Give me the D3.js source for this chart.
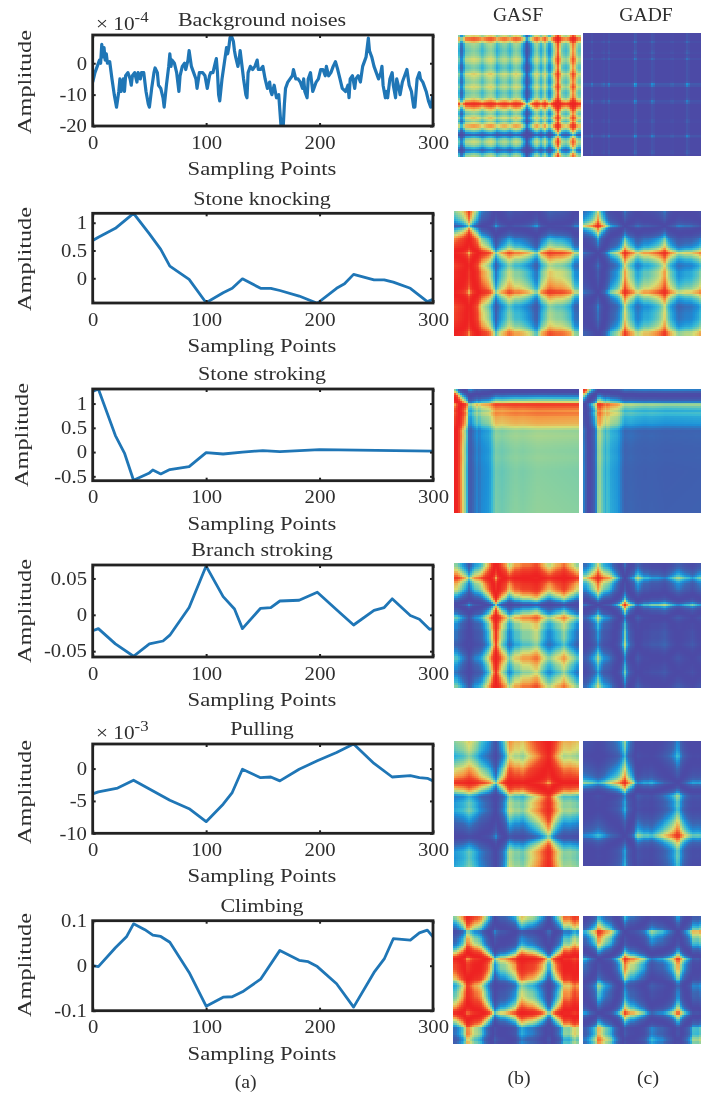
<!DOCTYPE html>
<html>
<head>
<meta charset="utf-8">
<script src="https://cdn.jsdelivr.net/npm/d3@7"></script>
<style>
  html, body { margin: 0; background: #fff; overflow: hidden; }
  svg { display: block; filter: blur(0.5px); }
  text { font-family: "Liberation Serif", serif; fill: #2e2e2e; }
</style>
</head>
<body>
<div id="chart"></div>
<script>
// values, x in sampling points
const tickX = [0, 100, 200, 300];
const titles = ["Background noises", "Stone knocking", "Stone stroking", "Branch stroking", "Pulling", "Climbing"];

const noiseX = [0,2,4,6,7,8,9,10,11,12,13,15,17,19,21,23,24,25,27,28,29,31,33,34,35,37,39,40,42,43,45,47,49,50,52,54,55,57,58,60,62,63,65,67,68,69,70,72,74,76,77,79,81,82,84,85,87,89,91,92,94,97,99,101,103,104,106,108,109,110,111,112,114,116,118,119,120,121,122,124,125,126,128,129,130,132,133,135,136,137,139,141,143,145,146,148,150,152,154,156,157,158,160,162,164,165,166,168,169,170,172,174,176,177,179,181,183,185,186,187,189,190,192,194,195,197,199,201,203,205,206,208,210,212,214,216,218,220,223,225,226,227,229,231,232,234,236,238,240,241,243,244,246,248,250,252,254,255,256,258,259,260,262,264,265,267,268,270,271,273,275,277,279,281,283,284,286,288,289,291,293,294,296,298,300];
const noiseY = [-6,-3,-1,1,0,6,2,5,1,3,0,0.5,-5,-10,-14,-9,-5,-9,-5,-9,-4,-3,-5,-7,-4,-3,-6,-3,-5,-3,-3,-9,-13,-14,-8,-3,-1.5,-3,-7,-8,-11,-14,-7,-1,3,-1,1,0,-3,-9,-4,-1,0,-2,1,4,-1,-3,-5,-8,-3,-3,-4,-8,-4,-3,-3,0,1.5,-3,-10,-12,-5,0,5,3,5,8,9,7,4,2,-1,1,4,-2,-5,-10,-11,-3,-1,-2,-1,1,-2,-2,-1,-5,-8,-6,-9,-10,-7,-11,-10,-15,-20,-20,-13,-8,-6,-5,-4,-2,-5,-5,-6,-8,-5,-9,-11,-5,-3,-9,-8,-6,-5,-2,-2,-4,-1,-4,-3,-1,0.5,-2,-5,-8,-9,-7,-11,-5,-4,-8,-5,-4,-6,-1,1,2,8,4,2,-1,-3,-5,-3,-1,-7,-11,-9,-11,-5,-3,-7,-11,-5,-8,-10,-6,-4,-2,-7,-9,-14,-14,-5,-3,-5,-6,-8,-9,-12,-14,-10];

// the noise images do not follow the plotted trace closely, so their
// row/column profiles are read from the images themselves (scaled -1..1)
const noiseLeftX = [0,9,21,30,39,51,60,72,81,90,96,108,117,129,141,153,162,171,180,189,195,204,213,225,234,246,255,264,273,285,294,300];
const noiseLeftY = [0,-0.75,0,0.05,0.12,0.03,-0.16,0.05,0.15,0.03,-0.2,0,0.06,-0.16,0.12,0,-0.45,-0.85,-0.45,0,0.1,-0.22,0.12,-0.5,0,0.75,0.05,-0.12,0.05,0.7,0.03,-0.05];
const noiseRightX = [0,16,21,26,42,48,53,58,63,68,100,118,126,134,160,168,176,210,216,222,244,252,260,285,291,297,300];
const noiseRightY = [0,0,0.34,0,0,0.34,0,0.05,0.4,0,0,0,0.74,0,0,0.58,0,0,0.3,0,0,0.58,0,0,0.36,0,0];

const knockingX = [0,5,20,36,50,60,68,85,100,115,123,132,148,157,165,182,198,215,222,230,248,257,265,280,295,300];
const knockingY = [0.68,0.74,0.9,1.17,0.8,0.52,0.22,-0.02,-0.44,-0.26,-0.18,-0.01,-0.18,-0.18,-0.22,-0.32,-0.45,-0.18,-0.1,0.07,-0.03,-0.03,-0.07,-0.18,-0.42,-0.38];

const strokingX = [0,5,20,28,36,50,53,60,68,85,100,115,132,150,165,200,300];
const strokingY = [1.25,1.3,0.34,-0.02,-0.58,-0.43,-0.37,-0.45,-0.36,-0.3,-0.01,-0.04,0,0.03,0.01,0.05,0.02];

const branchX = [0,5,20,36,50,62,68,85,100,115,125,132,148,157,165,182,198,215,230,248,257,264,280,288,297,300];
const branchY = [-0.022,-0.019,-0.04,-0.057,-0.04,-0.036,-0.028,0.01,0.067,0.025,0.008,-0.019,0.009,0.01,0.019,0.02,0.031,0.007,-0.014,0.006,0.01,0.022,-0.001,-0.006,-0.02,-0.019];

const pullingX = [0,5,22,36,68,85,100,115,123,132,148,157,165,182,198,215,230,248,264,280,288,295,300];
const pullingY = [-3.9,-3.6,-3,-1.8,-4.9,-6.2,-8.2,-5.5,-3.7,-0.1,-1.4,-1.3,-1.9,-0.1,1.2,2.5,3.8,0.8,-1.3,-1.1,-1.4,-1.5,-1.9];

const climbingX = [0,5,20,30,36,46,53,60,68,85,100,115,123,132,148,165,182,190,198,215,230,248,257,265,280,288,295,300];
const climbingY = [0,-0.002,0.04,0.065,0.093,0.08,0.068,0.065,0.052,-0.015,-0.09,-0.07,-0.069,-0.058,-0.03,0.034,0.012,0.009,-0.002,-0.04,-0.092,-0.015,0.015,0.06,0.057,0.073,0.079,0.064];

const domains = [[-20, 9], [-0.445, 1.17], [-0.59, 1.3], [-0.058, 0.0685], [-10, 3.8], [-0.1, 0.1]];
const ticksY = [[0, -10, -20], [1, 0.5, 0], [1, 0.5, 0, -0.5], [0.05, 0, -0.05], [0, -5, -10], [0.1, 0, -0.1]];
const multipliers = ["-4", null, null, null, "-3", null];

const colorStops = [-1, -0.7, -0.45, -0.25, 0, 0.25, 0.5, 0.75, 1];
const colorValues = ["#4c4aa6", "#3d65b2", "#1c90d8", "#35b8d6", "#88d0a0", "#d8dc72", "#f59a44", "#f0482a", "#ee2222"];

const seriesX = [noiseX, knockingX, strokingX, branchX, pullingX, climbingX];
const seriesY = [noiseY, knockingY, strokingY, branchY, pullingY, climbingY];

// layout
const plotLeft = 92.7, plotRight = 433;
const plotTop = [35, 213.3, 389, 565, 744, 920.7];
const plotBottom = [126, 303, 480.7, 657, 833.3, 1010.7];
const ampX = [25, 25, 22, 25, 25, 25];
const ampY = [82, 259, 435, 611, 792, 965];
const mapTop = [[35, 33], [211, 211], [389, 389], [563.3, 563.3], [741, 741], [915.7, 915.7]];
const mapBottom = [[156.7, 155.7], [335, 335], [512.7, 512.7], [687, 687], [866.7, 865], [1043.3, 1043.3]];
const mapLeft = [[457.7, 583.3], [454.3, 583.3], [454.3, 583.3], [454.3, 583.3], [454.3, 583.3], [452.7, 583.3]];
const mapRight = [[580, 707], [578.3, 707], [578.3, 707], [578.3, 707], [578.3, 707], [578.3, 707]];
const gridSize = 64;

const svg = d3.select("#chart").append("svg").attr("width", 701).attr("height", 1095);
const color = d3.scaleLinear().domain(colorStops).range(colorValues).clamp(true);

// stretched serif text, the scan is wider than it is tall
const label = (x, y, str, size = 19, sx = 1.18, rotate = 0) => svg.append("text")
    .attr("transform", `translate(${x},${y}) rotate(${rotate}) scale(${sx},1)`)
    .attr("text-anchor", "middle")
    .attr("dominant-baseline", "central")
    .attr("font-size", size)
    .text(str);

// phi profile of one image on the grid
const profile = (xs, ys, scaled) => {
    const lookup = d3.scaleLinear().domain(xs).range(ys);
    const rescale = d3.scaleLinear().domain(scaled ? [-1, 1] : d3.extent(ys)).range([-1, 1]).clamp(true);
    return d3.range(gridSize).map(i => Math.acos(rescale(lookup((i + 0.5) * 300 / gridSize))));
};

// the two image columns are the Gramian angular fields of the series
const leftCells = phi => phi.flatMap((py, r) => phi.map((px, c) => ({ r, c, v: Math.sin(py - px) })));
const rightCells = phi => phi.flatMap((py, r) => phi.map((px, c) => ({ r, c, v: Math.cos(px + py) })));

titles.forEach((title, i) => {
    const x = d3.scaleLinear().domain([0, 300]).range([plotLeft, plotRight]);
    const y = d3.scaleLinear().domain(domains[i]).range([plotBottom[i], plotTop[i]]);
    const plot = svg.append("g");

    const clipId = `clip-${i}`;
    svg.append("clipPath").attr("id", clipId).append("rect")
        .attr("x", plotLeft).attr("y", plotTop[i])
        .attr("width", plotRight - plotLeft).attr("height", plotBottom[i] - plotTop[i]);

    const line = d3.line().x(d => x(d[0])).y(d => y(d[1]));
    plot.append("path")
        .datum(d3.zip(seriesX[i], seriesY[i]))
        .attr("clip-path", `url(#${clipId})`)
        .attr("d", line)
        .attr("fill", "none")
        .attr("stroke", "#1f76b6")
        .attr("stroke-width", i === 0 ? 3.2 : 2.8)
        .attr("stroke-linejoin", "round");

    // matlab style box, ticks point inwards on all four sides
    const xBottom = d3.axisBottom(x).tickValues(tickX).tickSizeInner(-3).tickSizeOuter(0).tickPadding(10).tickFormat(String);
    const yLeft = d3.axisLeft(y).tickValues(ticksY[i]).tickSizeInner(-3).tickSizeOuter(0).tickPadding(5).tickFormat(String);
    const xTop = d3.axisTop(x).tickValues(tickX).tickSizeInner(-3).tickSizeOuter(0).tickFormat("");
    const yRight = d3.axisRight(y).tickValues(ticksY[i]).tickSizeInner(-3).tickSizeOuter(0).tickFormat("");
    plot.append("g").attr("transform", `translate(0,${plotBottom[i]})`).call(xBottom);
    plot.append("g").attr("transform", `translate(${plotLeft},0)`).call(yLeft);
    plot.append("g").attr("transform", `translate(0,${plotTop[i]})`).call(xTop);
    plot.append("g").attr("transform", `translate(${plotRight},0)`).call(yRight);
    plot.selectAll(".domain").remove();
    plot.selectAll(".tick line").attr("stroke", "#222").attr("stroke-width", 2);
    plot.selectAll(".tick text")
        .attr("font-family", "Liberation Serif")
        .attr("font-size", 18)
        .attr("fill", "#2e2e2e")
        .attr("transform", "scale(1.15,1)");

    plot.append("rect")
        .attr("x", plotLeft).attr("y", plotTop[i])
        .attr("width", plotRight - plotLeft).attr("height", plotBottom[i] - plotTop[i])
        .attr("fill", "none")
        .attr("stroke", "#222")
        .attr("stroke-width", 2.8);

    label(262, plotTop[i] - 15, title, 19, 1.16);
    label(262, plotBottom[i] + 42.5, "Sampling Points", 19, 1.19);
    label(ampX[i], ampY[i], "Amplitude", 19, 1.28, -90);

    if (multipliers[i]) {
        const t = svg.append("text")
            .attr("transform", `translate(96,${plotTop[i] - 5}) scale(1.12,1)`)
            .attr("font-size", 19);
        t.append("tspan").text("\u00d7 10");
        t.append("tspan").attr("dy", -8).attr("font-size", 15).text(multipliers[i]);
    }

    // heat maps
    const fields = i === 0
        ? [leftCells(profile(noiseLeftX, noiseLeftY, true)), rightCells(profile(noiseRightX, noiseRightY, true))]
        : [leftCells(profile(seriesX[i], seriesY[i])), rightCells(profile(seriesX[i], seriesY[i]))];
    fields.forEach((cells, k) => {
        const cx = d3.scaleBand().domain(d3.range(gridSize)).range([mapLeft[i][k], mapRight[i][k]]);
        const cy = d3.scaleBand().domain(d3.range(gridSize)).range([mapTop[i][k], mapBottom[i][k]]);
        svg.append("g")
            .attr("shape-rendering", "crispEdges")
            .selectAll("rect")
            .data(cells)
            .join("rect")
            .attr("x", d => cx(d.c))
            .attr("y", d => cy(d.r))
            .attr("width", cx.bandwidth() + 0.5)
            .attr("height", cy.bandwidth() + 0.5)
            .attr("fill", d => color(d.v));
    });
});

label(518, 15, "GASF", 18, 1.09);
label(646, 15, "GADF", 18, 1.09);
label(245.7, 1082, "(a)", 18, 1.1);
label(519, 1078, "(b)", 18, 1.1);
label(648, 1078, "(c)", 18, 1.1);
</script>
</body>
</html>
